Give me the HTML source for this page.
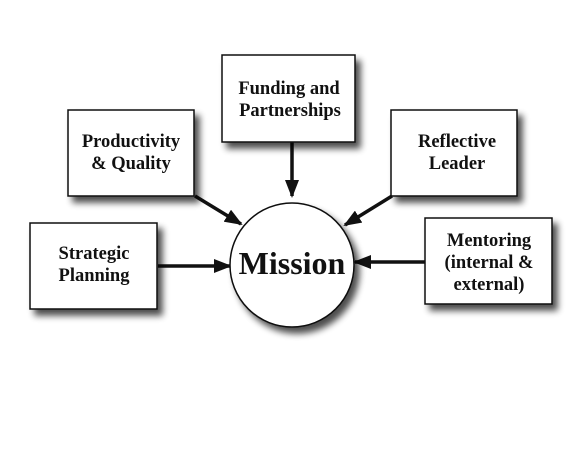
<!DOCTYPE html>
<html><head><style>
body{margin:0;background:#fff;}
svg{display:block;}
text{font-family:"Liberation Serif",serif;font-weight:bold;fill:#111;}
</style></head><body>
<svg width="586" height="450" viewBox="0 0 586 450">
<defs>
<filter id="sh" x="-20%" y="-20%" width="150%" height="150%">
<feGaussianBlur in="SourceAlpha" stdDeviation="3.5"/>
<feOffset dx="5" dy="6" result="b"/>
<feComponentTransfer><feFuncA type="linear" slope="0.7"/></feComponentTransfer>
<feMerge><feMergeNode/><feMergeNode in="SourceGraphic"/></feMerge>
</filter>
<marker id="ah" markerWidth="18" markerHeight="14" refX="16" refY="7" orient="auto" markerUnits="userSpaceOnUse" viewBox="0 0 18 14">
<path d="M0,0 L18,7 L0,14 z" fill="#111"/>
</marker>
</defs>
<g stroke="#111" stroke-width="3.5" marker-end="url(#ah)">
<line x1="292" y1="142" x2="292" y2="196"/>
<line x1="195" y1="196" x2="241" y2="224"/>
<line x1="392" y1="196" x2="345" y2="225"/>
<line x1="158" y1="266" x2="230" y2="266"/>
<line x1="426" y1="262" x2="355" y2="262"/>
</g>
<g fill="#fff" stroke="#111" stroke-width="1.5" filter="url(#sh)">
<rect x="222" y="55" width="133" height="87"/>
<rect x="68" y="110" width="126" height="86"/>
<rect x="391" y="110" width="126" height="86"/>
<rect x="30" y="223" width="127" height="86"/>
<rect x="425" y="218" width="127" height="86"/>
<circle cx="292" cy="265" r="62"/>
</g>
<g font-size="18.5" text-anchor="middle">
<text x="289" y="94">Funding and</text>
<text x="290" y="116">Partnerships</text>
<text x="131" y="147">Productivity</text>
<text x="131" y="169">&amp; Quality</text>
<text x="457" y="147">Reflective</text>
<text x="457" y="169">Leader</text>
<text x="94" y="259">Strategic</text>
<text x="94" y="281">Planning</text>
<text x="489" y="246">Mentoring</text>
<text x="489" y="268">(internal &amp;</text>
<text x="489" y="290">external)</text>
</g>
<text x="292" y="274" font-size="32" text-anchor="middle">Mission</text>
</svg>
</body></html>
